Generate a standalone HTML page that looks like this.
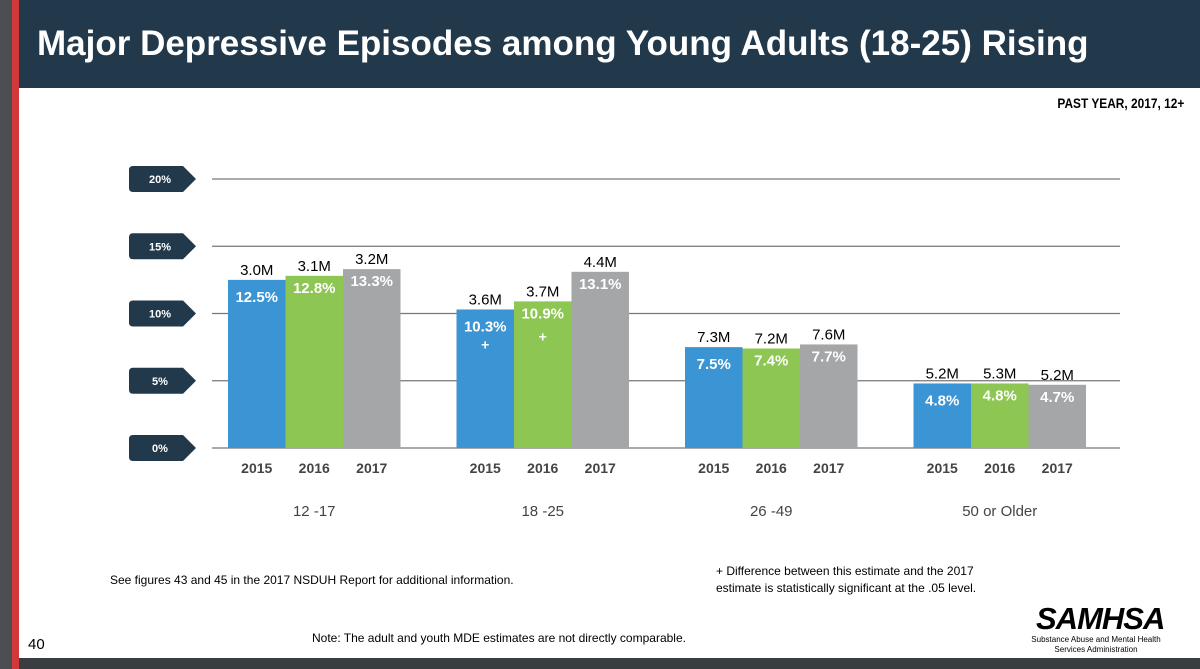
<!DOCTYPE html>
<html><head><meta charset="utf-8"><style>
body{margin:0;width:1200px;height:669px;overflow:hidden;background:#fff;font-family:"Liberation Sans",sans-serif;position:relative}
.abs{position:absolute}
</style></head><body>
<div class="abs" style="left:0;top:0;width:12px;height:669px;background:#4b4e52"></div>
<div class="abs" style="left:12px;top:0;width:7px;height:669px;background:#d0383a"></div>
<div class="abs" style="left:19px;top:0;width:1181px;height:88px;background:#22384b"></div>
<div class="abs" style="left:37px;top:24px;color:#fff;font-size:35px;font-weight:bold;white-space:nowrap">Major Depressive Episodes among Young Adults (18-25) Rising</div>
<div class="abs" style="right:16px;top:95px;font-size:14px;font-weight:bold;transform:scaleX(0.85);transform-origin:right">PAST YEAR, 2017, 12+</div>
<div class="abs" style="left:19px;top:658px;width:1181px;height:11px;background:#3a3d40"></div>
<svg class="abs" style="left:0;top:0" width="1200" height="669" id="chart"></svg>
<div class="abs" style="left:110px;top:573px;font-size:12px">See figures 43 and 45 in the 2017 NSDUH Report for additional information.</div>
<div class="abs" style="left:716px;top:563px;font-size:12px;line-height:17px">+ Difference between this estimate and the 2017<br>estimate is statistically significant at the .05 level.</div>
<div class="abs" style="left:312px;top:631px;font-size:12px">Note: The adult and youth MDE estimates are not directly comparable.</div>
<div class="abs" style="left:28px;top:636px;font-size:15px">40</div>
<div class="abs" style="left:1036px;top:601px;font-size:31px;font-weight:bold;font-style:italic;letter-spacing:-1px">SAMHSA</div>
<div class="abs" style="left:1026px;top:635px;font-size:8px;text-align:center;width:140px;line-height:10px;white-space:nowrap">Substance Abuse and Mental Health<br>Services Administration</div>
<script>
const groups=["12 -17","18 -25","26 -49","50 or Older"];
const years=["2015","2016","2017"];
const pct2015=[12.5,10.3,7.5,4.8];
const pct2016=[12.8,10.9,7.4,4.8];
const pct2017=[13.3,13.1,7.7,4.7];
const counts2015=["3.0M","3.6M","7.3M","5.2M"];
const counts2016=["3.1M","3.7M","7.2M","5.3M"];
const counts2017=["3.2M","4.4M","7.6M","5.2M"];
const sig2015=[false,true,false,false];
const sig2016=[false,true,false,false];
const ticks=[0,5,10,15,20];
const svg=document.getElementById('chart');const NS='http://www.w3.org/2000/svg';
const y0=448,yScale=13.45;const y=v=>y0-v*yScale;
const gx=i=>228+i*228.5,bw=57.5;
function mk(t,a,txt){const e=document.createElementNS(NS,t);for(const k in a)e.setAttribute(k,a[k]);if(txt!==undefined)e.textContent=txt;svg.appendChild(e);return e;}
ticks.forEach(t=>{
 const g=mk('line',{x1:212,x2:1120,y1:y(t),y2:y(t),stroke:'#777','stroke-width':1.3});
 
 const yy=y(t);
 const b=mk('path',{d:`M133 ${yy-13}H183L196 ${yy}L183 ${yy+13}H133Q129 ${yy+13} 129 ${yy+9}V${yy-9}Q129 ${yy-13} 133 ${yy-13}Z`,fill:'#22384b'});
 
 const l=mk('text',{x:160,y:yy+4,fill:'#fff','font-size':11,'font-weight':'bold','text-anchor':'middle'},t+'%');
 
});
const colors=['#3b95d4','#8dc652','#a4a6a8'];
const pcts=[pct2015,pct2016,pct2017],cnts=[counts2015,counts2016,counts2017],sigs=[sig2015,sig2016,null];
groups.forEach((g,i)=>{
 years.forEach((yr,j)=>{
  const v=pcts[j][i],x=gx(i)+j*bw;
  const r=mk('rect',{x:x,y:y(v),width:bw,height:y0-y(v),fill:colors[j]});
  
  const p=mk('text',{x:x+bw/2,y:y(v)+(j==0?22:17),fill:'#fff','font-size':15,'font-weight':'bold','text-anchor':'middle'},v.toFixed(1)+'%');
  
  const c=mk('text',{x:x+bw/2,y:y(v)-5,fill:'#000','font-size':15,'text-anchor':'middle'},cnts[j][i]);
  
  if(sigs[j]&&sigs[j][i]){const s=mk('text',{x:x+bw/2,y:y(v)+40,fill:'#fff','font-size':14,'font-weight':'bold','text-anchor':'middle'},'+');
   }
  const t=mk('text',{x:x+bw/2,y:473,fill:'#444','font-size':14,'font-weight':'bold','text-anchor':'middle'},yr);
  
 });
 const gl=mk('text',{x:gx(i)+bw*1.5,y:516,fill:'#444','font-size':15,'text-anchor':'middle'},g);
 
});
</script>
</body></html>
